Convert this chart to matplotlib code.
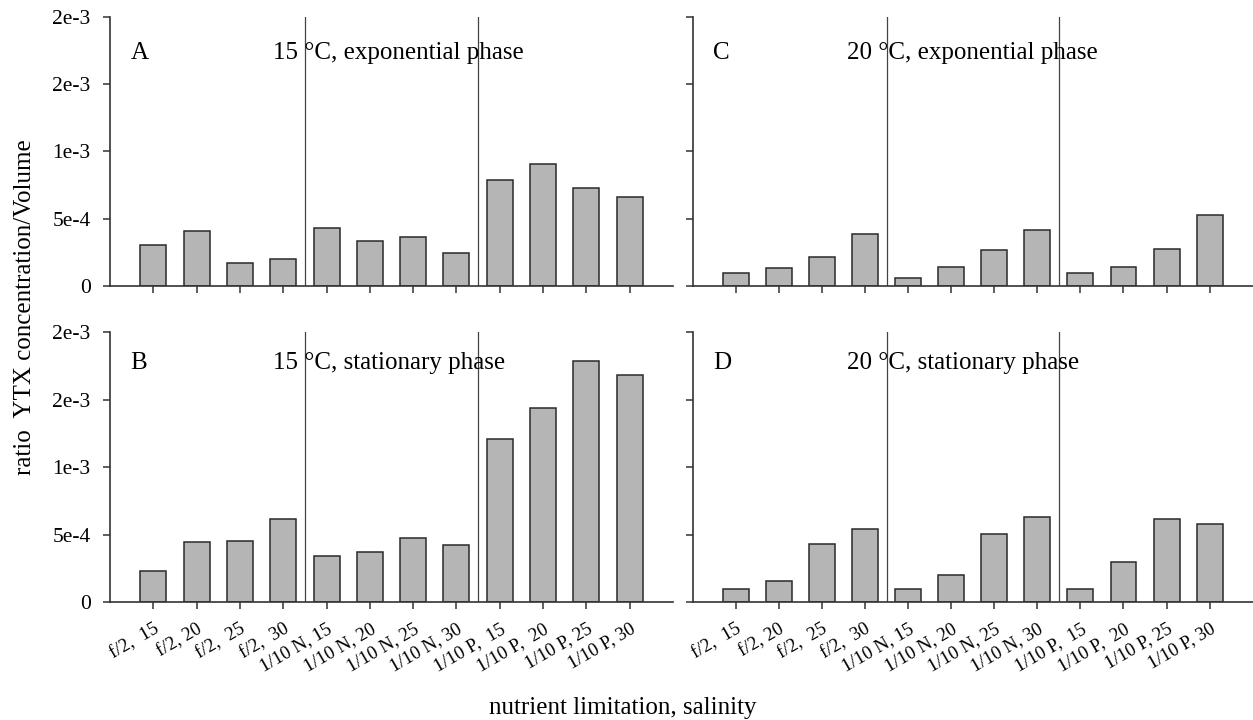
import numpy as np
import matplotlib
matplotlib.use("Agg")
import matplotlib.pyplot as plt

plt.rcParams['font.family'] = ['Liberation Serif', 'DejaVu Serif']

categories = ["f/2,  15", "f/2, 20", "f/2,  25", "f/2,  30",
              "1/10 N, 15", "1/10 N, 20", "1/10 N, 25", "1/10 N, 30",
              "1/10 P,  15", "1/10 P,  20", "1/10 P, 25", "1/10 P, 30"]

# ratio YTX concentration / volume
exp_15 = [3.05e-4, 4.07e-4, 1.69e-4, 2.03e-4, 4.34e-4, 3.32e-4,
          3.67e-4, 2.48e-4, 7.86e-4, 9.05e-4, 7.31e-4, 6.64e-4]
stat_15 = [2.34e-4, 4.47e-4, 4.54e-4, 6.15e-4, 3.45e-4, 3.73e-4,
           4.74e-4, 4.22e-4, 1.212e-3, 1.439e-3, 1.787e-3, 1.686e-3]
exp_20 = [9.4e-5, 1.31e-4, 2.18e-4, 3.87e-4, 6.2e-5, 1.39e-4,
          2.68e-4, 4.14e-4, 9.9e-5, 1.44e-4, 2.75e-4, 5.25e-4]
stat_20 = [9.6e-5, 1.58e-4, 4.30e-4, 5.41e-4, 1.00e-4, 2.00e-4,
           5.04e-4, 6.32e-4, 9.6e-5, 2.99e-4, 6.19e-4, 5.78e-4]

ytick_vals = [0, 5e-4, 1e-3, 1.5e-3, 2e-3]
ytick_labels = ["0", "5e-4", "1e-3", "2e-3", "2e-3"]
group_breaks = [3.5, 7.5]

panels = [
    # letter, title, data, axes rect, label row height, show y labels, show x labels
    ("A", "15 °C, exponential phase", exp_15, [0.0878, 0.6028, 0.4493, 0.3736], 0.866, 0.29, True, False),
    ("C", "20 °C, exponential phase", exp_20, [0.5528, 0.6028, 0.4470, 0.3736], 0.866, 0.275, False, False),
    ("B", "15 °C, stationary phase", stat_15, [0.0878, 0.1635, 0.4493, 0.375], 0.885, 0.29, True, True),
    ("D", "20 °C, stationary phase", stat_20, [0.5528, 0.1635, 0.4470, 0.375], 0.885, 0.275, False, True),
]

fig = plt.figure(figsize=(12.53, 7.2), dpi=100)
x = np.arange(len(categories))

for letter, title, vals, rect, ty, tx, ylab, xlab in panels:
    ax = fig.add_axes(rect)
    ax.bar(x, vals, width=0.6, color="#b5b5b5", edgecolor="#2a2a2a", linewidth=1.1)
    for b in group_breaks:
        ax.axvline(b, color="#444444", linewidth=0.9)
    ax.set_xlim(-1, 12)
    ax.set_ylim(0, 2e-3)
    ax.spines['top'].set_visible(False)
    ax.spines['right'].set_visible(False)
    for s in ['left', 'bottom']:
        ax.spines[s].set_color("#333333")
        ax.spines[s].set_linewidth(1.2)
    ax.tick_params(colors="#333333", width=1.1, length=5, direction='out')
    ax.set_yticks(ytick_vals)
    if ylab:
        ax.set_yticklabels(ytick_labels, fontsize=15.5, color="black")
        ax.tick_params(axis='y', pad=9)
    else:
        ax.set_yticklabels([])
    ax.set_xticks(x)
    if xlab:
        ax.set_xticklabels(categories, rotation=30, ha='right', rotation_mode='anchor',
                           fontsize=13.5, color="black")
        ax.tick_params(axis='x', pad=8)
    else:
        ax.set_xticklabels([])
    ax.text(0.036, ty, letter, transform=ax.transAxes, fontsize=18, va='center', ha='left')
    ax.text(tx, ty, title, transform=ax.transAxes, fontsize=18, va='center', ha='left')

fig.text(0.02, 0.573, "ratio  YTX concentration/Volume", rotation=90,
         fontsize=18, va='center', ha='center')
fig.text(0.497, 0.017, "nutrient limitation, salinity", fontsize=18,
         va='center', ha='center')

plt.savefig("out.png", dpi=100)
